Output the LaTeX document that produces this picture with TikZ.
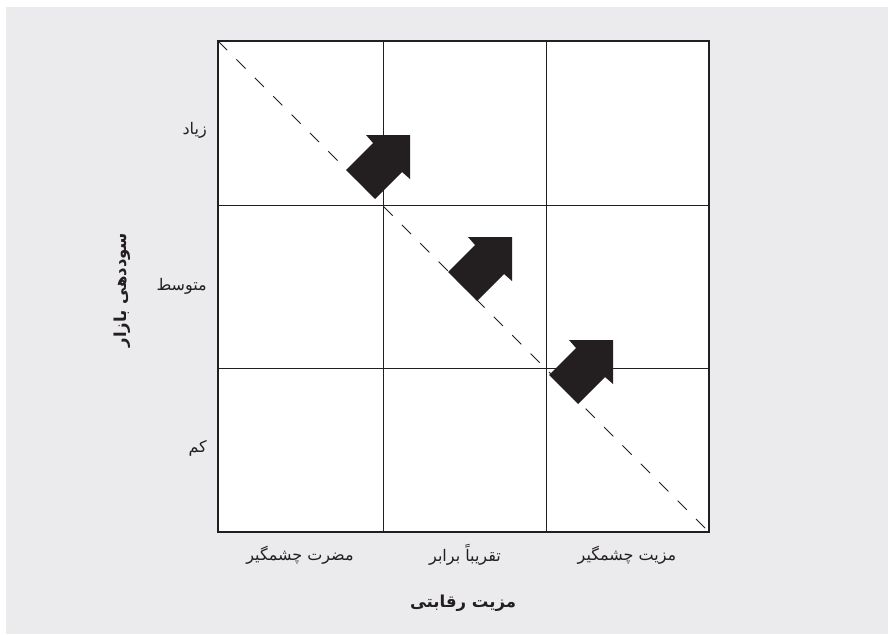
\documentclass[tikz,border=0pt]{standalone}
\usepackage{fontspec}
\newfontfamily\arabicfont[Script=Arabic]{DejaVu Sans}
\TeXXeTstate=1
\usetikzlibrary{positioning}
\definecolor{panelgray}{RGB}{235,235,237}
\definecolor{inkblack}{RGB}{35,31,32}

\begin{document}
\begin{tikzpicture}[x=1pt, y=-1pt,
  every node/.style={inner sep=0pt, text=inkblack},
  lbl/.style={font=\arabicfont\fontsize{16}{18}\selectfont},
  ttl/.style={font=\arabicfont\bfseries\fontsize{16.5}{19}\selectfont},
  gridline/.style={draw=inkblack, line width=0.9pt},
  diag/.style={draw=inkblack, line width=0.8pt, dash pattern=on 13pt off 13pt},
  blockarrow/.style={fill=inkblack}
]
% page and panel
\useasboundingbox (0,0) rectangle (888,634);
\fill[panelgray] (6,7) rectangle (888,634);
% corners of the matrix
\coordinate (tl) at (218,41);
\coordinate (br) at (709,532);
\fill[white] (tl) rectangle (br);
% inner grid lines
\foreach \vx/\hy in {383/205, 546/368} {
  \draw[gridline] (\vx,41) -- (\vx,532);
  \draw[gridline] (218,\hy) -- (709,\hy);
}
% diagonal
\draw[diag] (tl) -- (br);
% block arrows
\foreach \cx/\cy in {410/135, 512/237, 613/340}
  \fill[blockarrow, shift={(\cx,\cy)}] (0,0) -- (0,44) -- (-8,37) -- (-35,64)
    -- (-64,35) -- (-37,8) -- (-44,0) -- cycle;
% frame
\draw[draw=inkblack, line width=1.6pt] (tl) rectangle (br);
% row labels
\node[lbl, anchor=east] (high) at (207,130) {\beginR زیاد\endR};
\node[lbl, anchor=east] (mid) at (207,286) {\beginR متوسط\endR};
\node[lbl, anchor=east] (low) at (207,448) {\beginR کم\endR};
\node[ttl, rotate=90] (yaxis) at (122,290) {\beginR سوددهی بازار\endR};
% column labels
\node[lbl] (weak) at (300,555) {\beginR مضرت چشمگیر\endR};
\node[lbl] (equal) at (465,555) {\beginR تقریباً برابر\endR};
\node[lbl] (strong) at (627,555) {\beginR مزیت چشمگیر\endR};
\node[ttl] (xaxis) at (463,603) {\beginR مزیت رقابتی\endR};
\end{tikzpicture}
\end{document}
